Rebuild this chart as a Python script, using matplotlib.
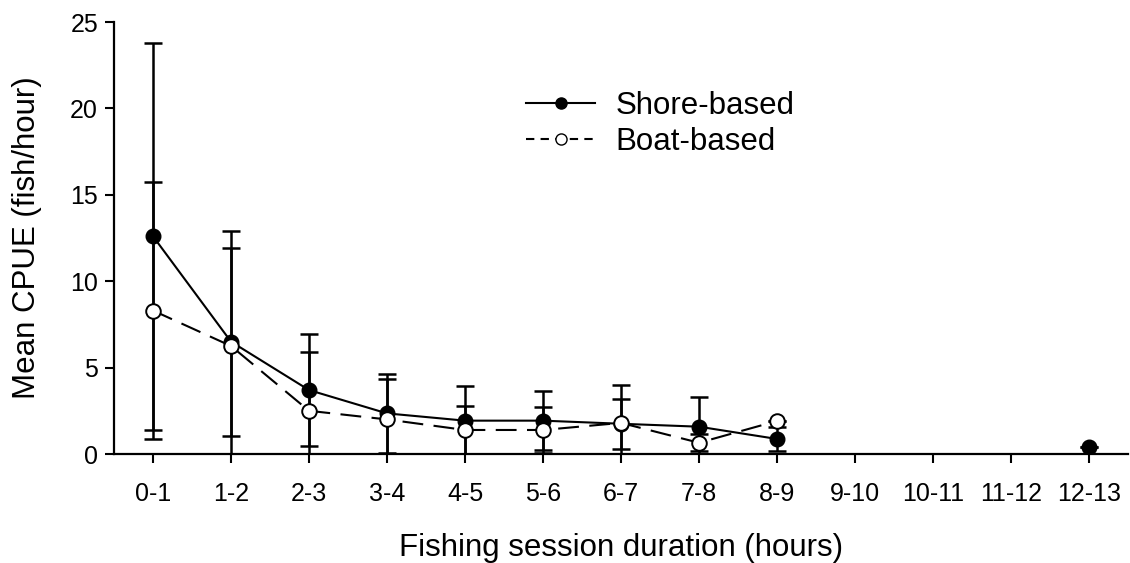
import numpy as np
import matplotlib
matplotlib.use("Agg")
import matplotlib.pyplot as plt
from matplotlib.lines import Line2D

plt.rcParams['font.family'] = ['Liberation Sans', 'DejaVu Sans']

# Session duration classes
durations = ["0-1", "1-2", "2-3", "3-4", "4-5", "5-6", "6-7",
             "7-8", "8-9", "9-10", "10-11", "11-12", "12-13"]

# Shore-based anglers (mean CPUE, SD); nan = no data
shore_mean = [12.6, 6.5, 3.7, 2.35, 1.93, 1.93, 1.75, 1.58, 0.87,
              np.nan, np.nan, np.nan, 0.43]
shore_err = [11.2, 5.45, 3.25, 2.3, 2.0, 1.72, 1.45, 1.74, 0.67,
             np.nan, np.nan, np.nan, 0.0]

# Boat-based anglers
boat_mean = [8.3, 6.25, 2.5, 2.0, 1.39, 1.39, 1.8, 0.65, 1.91,
             np.nan, np.nan, np.nan, np.nan]
boat_err = [7.45, 6.65, 3.38, 2.32, 1.39, 1.33, 2.2, 0.5, 0.0,
            np.nan, np.nan, np.nan, np.nan]

x = np.arange(len(durations))

fig = plt.figure(figsize=(11.3, 5.63), dpi=100)
ax = fig.add_axes([114/1130, 1 - 454/563, (1128 - 114)/1130, (454 - 22)/563])

ax.errorbar(x, shore_mean, yerr=shore_err, fmt='none', ecolor='black',
            elinewidth=1.8, capsize=6.5, capthick=1.8, zorder=2)
ax.errorbar(x, boat_mean, yerr=boat_err, fmt='none', ecolor='black',
            elinewidth=1.8, capsize=6.5, capthick=1.8, zorder=2)

sm = np.array(shore_mean)
bm = np.array(boat_mean)
ok_s = ~np.isnan(sm)
ok_b = ~np.isnan(bm)
# connect only consecutive classes with data
ax.plot(x[:9], sm[:9], '-', color='black', lw=1.5, zorder=3)
ax.plot(x[ok_s], sm[ok_s], 'o', color='black', ms=10.5, mfc='black',
        mec='black', zorder=4, lw=0)
ax.plot(x[:9], bm[:9], color='black', lw=1.5, dashes=(10, 5), zorder=5)
ax.plot(x[ok_b], bm[ok_b], 'o', ms=10.5, mfc='white', mec='black',
        mew=1.4, zorder=6, lw=0)

ax.set_xlim(-0.5, 12.5)
ax.set_ylim(0, 25)
ax.set_xticks(x)
ax.set_xticklabels(durations)
ax.set_yticks([0, 5, 10, 15, 20, 25])
ax.tick_params(axis='both', direction='out', labelsize=18, width=1.5,
               length=6.5, pad=5)
ax.tick_params(axis='x', pad=14)
for s in ['top', 'right']:
    ax.spines[s].set_visible(False)
for s in ['left', 'bottom']:
    ax.spines[s].set_linewidth(1.6)

ax.set_xlabel("Fishing session duration (hours)", fontsize=22.5, labelpad=19)
ax.set_ylabel("Mean CPUE (fish/hour)", fontsize=22.5, labelpad=20)

handles = [
    Line2D([], [], color='black', lw=1.5, marker='o', ms=8,
           mfc='black', mec='black'),
    Line2D([], [], color='black', lw=1.5, dashes=(4, 3), marker='o', ms=8,
           mfc='white', mec='black'),
]
ax.legend(handles, ["Shore-based", "Boat-based"], loc='upper left',
          bbox_to_anchor=(0.379, 0.905), frameon=False, fontsize=22.5,
          handlelength=2.2, handletextpad=0.65, labelspacing=0.2)

fig.savefig("out.png", dpi=100)
